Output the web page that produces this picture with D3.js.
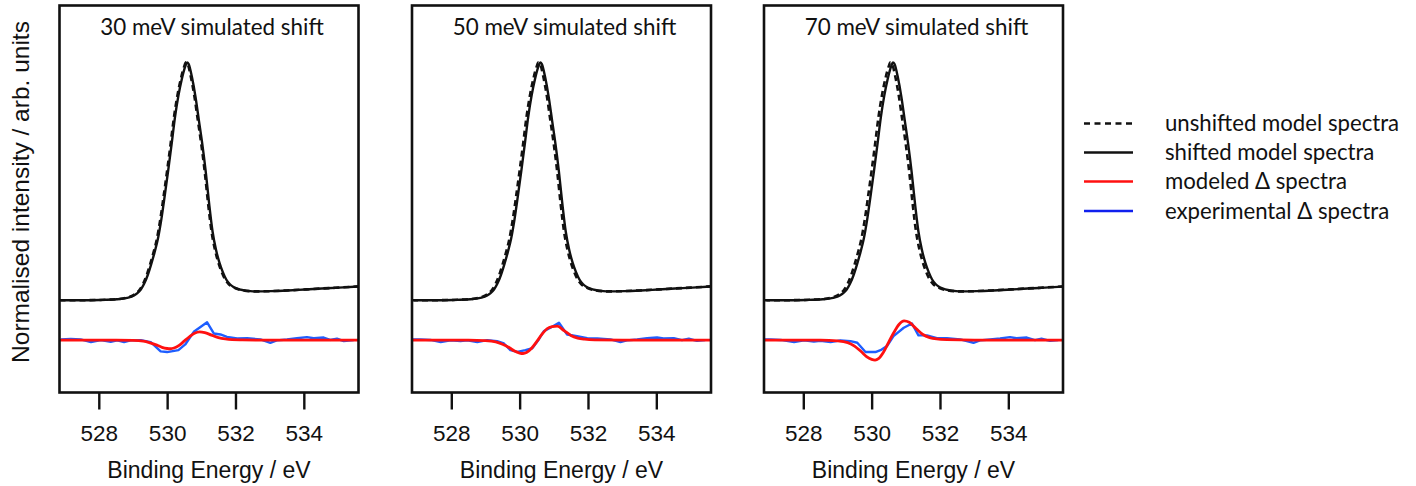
<!DOCTYPE html>
<html>
<head>
<meta charset="utf-8">
<script src="https://cdn.jsdelivr.net/npm/d3@7"></script>
<style>
  html, body { margin: 0; padding: 0; background: #fff; }
  svg { display: block; }
</style>
</head>
<body>
<svg id="chart" width="1416" height="486"></svg>
<script>
// ---- model O 1s spectrum (unshifted), normalised to peak = 1 ----
const modelEnergy = [526.85, 527.5, 528.0, 528.5, 528.8, 529.0, 529.1, 529.2, 529.3, 529.4,
  529.5, 529.6, 529.7, 529.8, 529.9, 530.0, 530.1, 530.2, 530.3, 530.4,
  530.5, 530.55, 530.6, 530.7, 530.8, 530.9, 531.0, 531.1, 531.2, 531.3,
  531.4, 531.5, 531.6, 531.7, 531.8, 531.9, 532.0, 532.2, 532.4, 532.6,
  533.0, 533.5, 534.0, 534.5, 535.0, 535.6];
const modelIntensity = [0.000, 0.000, 0.001, 0.004, 0.010, 0.020, 0.030, 0.045, 0.070, 0.105,
  0.150, 0.200, 0.258, 0.340, 0.440, 0.545, 0.655, 0.770, 0.860, 0.930,
  0.983, 1.000, 0.993, 0.935, 0.855, 0.755, 0.655, 0.540, 0.405, 0.288,
  0.212, 0.158, 0.118, 0.087, 0.068, 0.057, 0.050, 0.042, 0.038, 0.037,
  0.038, 0.041, 0.045, 0.049, 0.053, 0.058];

// ---- simulated shifts (eV) and panel titles ----
const shifts = [0.030, 0.050, 0.070];
const panelTitles = ["30 meV simulated shift", "50 meV simulated shift", "70 meV simulated shift"];

// ---- modeled Δ spectra ----
const modeledEnergy = [526.85, 528.5, 529.0, 529.3, 529.5, 529.7, 529.85, 530.0, 530.1, 530.2,
  530.35, 530.5, 530.65, 530.8, 530.95, 531.1, 531.3, 531.5, 531.7, 531.9,
  532.2, 533.0, 535.6];
const modeled30 = [0, 0, -0.001, -0.004, -0.011, -0.021, -0.030, -0.035, -0.036, -0.033,
  -0.022, -0.004, 0.014, 0.029, 0.035, 0.032, 0.021, 0.011, 0.005, 0.002,
  0.001, 0, 0];
const modeled50 = [0, 0, -0.002, -0.007, -0.017, -0.032, -0.046, -0.054, -0.056, -0.052,
  -0.034, -0.006, 0.024, 0.048, 0.057, 0.059, 0.040, 0.020, 0.009, 0.004,
  0.001, 0, 0];
const modeled70 = [0, 0, -0.003, -0.010, -0.025, -0.049, -0.069, -0.081, -0.084, -0.078,
  -0.050, -0.008, 0.032, 0.066, 0.081, 0.075, 0.049, 0.024, 0.011, 0.005,
  0.002, 0, 0];

// ---- experimental Δ spectra ----
const expEnergy30 = [526.89, 527.18, 527.47, 527.77, 528.06, 528.35, 528.54, 528.74, 528.93, 529.23,
  529.52, 529.81, 530.00, 530.33, 530.53, 530.78, 531.17, 531.37, 531.56, 531.75,
  532.05, 532.34, 532.73, 533.02, 533.21, 533.51, 533.80, 534.09, 534.29, 534.58,
  534.77, 534.97, 535.17, 535.46];
const exp30 = [0.003, 0.005, 0.003, -0.008, 0.000, -0.007, -0.001, -0.008, -0.001, 0.000,
  -0.008, -0.047, -0.050, -0.042, -0.018, 0.035, 0.075, 0.028, 0.024, 0.014,
  0.007, 0.008, 0.003, -0.011, -0.001, 0.003, 0.008, 0.013, 0.008, 0.011,
  0.001, 0.006, -0.004, 0.000];
const expEnergy50 = [526.81, 527.10, 527.39, 527.69, 527.98, 528.27, 528.47, 528.76, 529.05, 529.34,
  529.54, 529.73, 529.93, 530.17, 530.37, 530.56, 530.71, 530.90, 531.15, 531.39,
  531.68, 531.98, 532.27, 532.66, 532.95, 533.14, 533.44, 533.73, 534.02, 534.21,
  534.51, 534.75, 534.95, 535.19, 535.43];
const exp50 = [0.003, 0.003, 0.001, -0.008, -0.001, -0.004, -0.001, -0.008, 0.000, -0.004,
  -0.014, -0.042, -0.049, -0.042, -0.034, 0.003, 0.038, 0.052, 0.073, 0.024,
  0.017, 0.008, 0.007, 0.003, -0.008, -0.001, 0.003, 0.008, 0.011, 0.007,
  0.008, 0.000, 0.006, -0.003, 0.000];
const expEnergy70 = [526.75, 527.05, 527.34, 527.73, 528.02, 528.31, 528.50, 528.80, 529.09, 529.38,
  529.58, 529.82, 530.11, 530.26, 530.45, 530.64, 530.94, 531.18, 531.37, 531.62,
  531.91, 532.20, 532.59, 532.98, 533.17, 533.47, 533.76, 534.05, 534.24, 534.54,
  534.78, 534.97, 535.22, 535.46];
const exp70 = [0.003, 0.003, 0.001, -0.008, -0.001, -0.006, -0.003, -0.008, -0.001, -0.004,
  -0.011, -0.050, -0.050, -0.042, -0.025, 0.017, 0.052, 0.070, 0.020, 0.020,
  0.008, 0.008, 0.003, -0.011, -0.001, 0.003, 0.007, 0.013, 0.008, 0.011,
  0.000, 0.006, -0.003, 0.000];

// ---- axis ticks and legend ----
const xTicks = [528, 530, 532, 534];
const legendLabels = ["unshifted model spectra", "shifted model spectra", "modeled \u0394 spectra", "experimental \u0394 spectra"];

const modeledSeries = [modeled30, modeled50, modeled70];
const expEnergySeries = [expEnergy30, expEnergy50, expEnergy70];
const expSeries = [exp30, exp50, exp70];

// ---- layout ----
const panelLeft = [59.5, 412, 764];
const panelWidth = 299;
const panelTop = 5.5;
const panelBottom = 392.5;
const deltaOffset = -0.168;   // vertical offset of the Δ traces below the spectra
const colRed = "#ff1010";
const colBlue = "#1e5eff";
const colLegendBlue = "#1020ee";
const uiFont = "Lato, 'Noto Sans', sans-serif";
const axisFont = "'Liberation Sans', Arial, sans-serif";

const svg = d3.select("#chart");

const y = d3.scaleLinear().domain([-0.388, 1.239]).range([panelBottom, panelTop]);

const model = modelEnergy.map((e, i) => ({ e, v: modelIntensity[i] }));

shifts.forEach((shift, p) => {
  const x = d3.scaleLinear().domain([526.85, 535.6]).range([panelLeft[p], panelLeft[p] + panelWidth]);
  const g = svg.append("g");

  const clipId = "clip" + p;
  g.append("clipPath").attr("id", clipId)
    .append("rect")
    .attr("x", panelLeft[p]).attr("y", panelTop)
    .attr("width", panelWidth).attr("height", panelBottom - panelTop);

  const plot = g.append("g").attr("clip-path", `url(#${clipId})`);

  const lineModel = d3.line().curve(d3.curveMonotoneX);

  // unshifted model (dashed)
  plot.append("path")
    .attr("d", lineModel(model.map(d => [x(d.e), y(d.v)])))
    .attr("fill", "none").attr("stroke", "#111").attr("stroke-width", 2.6)
    .attr("stroke-dasharray", "6,4");

  // shifted model (solid)
  plot.append("path")
    .attr("d", lineModel(model.map(d => [x(d.e + shift), y(d.v)])))
    .attr("fill", "none").attr("stroke", "#111").attr("stroke-width", 2.4);

  // experimental Δ spectrum
  const eE = expEnergySeries[p], eV = expSeries[p];
  plot.append("path")
    .attr("d", d3.line()(eE.map((e, i) => [x(e), y(eV[i] + deltaOffset)])))
    .attr("fill", "none").attr("stroke", colBlue).attr("stroke-width", 2.4)
    .attr("stroke-linejoin", "round");

  // modeled Δ spectrum
  const mV = modeledSeries[p];
  plot.append("path")
    .attr("d", d3.line().curve(d3.curveMonotoneX)(modeledEnergy.map((e, i) => [x(e), y(mV[i] + deltaOffset)])))
    .attr("fill", "none").attr("stroke", colRed).attr("stroke-width", 2.8);

  // frame
  g.append("rect")
    .attr("x", panelLeft[p]).attr("y", panelTop)
    .attr("width", panelWidth).attr("height", panelBottom - panelTop)
    .attr("fill", "none").attr("stroke", "#111").attr("stroke-width", 2.6);

  // x axis (ticks outside, below the frame)
  const axis = d3.axisBottom(x).tickValues(xTicks).tickSize(17).tickPadding(16).tickFormat(d3.format("d"));
  const ax = g.append("g").attr("transform", `translate(0,${panelBottom})`).call(axis);
  ax.select(".domain").remove();
  ax.selectAll(".tick line").attr("stroke", "#111").attr("stroke-width", 2.4);
  ax.selectAll(".tick text")
    .attr("fill", "#111")
    .style("font-family", axisFont).style("font-size", "22.5px");

  g.append("text")
    .attr("x", panelLeft[p] + panelWidth / 2).attr("y", 478)
    .attr("text-anchor", "middle")
    .style("font-family", axisFont).style("font-size", "23px").attr("fill", "#111")
    .text("Binding Energy / eV");

  // panel title
  g.append("text")
    .attr("x", panelLeft[p] + panelWidth / 2 + 3).attr("y", 35)
    .attr("text-anchor", "middle")
    .style("font-family", uiFont).style("font-size", "22.4px").attr("fill", "#111")
    .text(panelTitles[p]);
});

// y axis label
svg.append("text")
  .attr("transform", "translate(29,192) rotate(-90)")
  .attr("text-anchor", "middle")
  .style("font-family", axisFont).style("font-size", "24.5px").attr("fill", "#111")
  .text("Normalised intensity / arb. units");

// legend
const legendRows = [123.5, 152.5, 181.5, 211];
const legendStyles = [
  { stroke: "#111", dash: "6,4.5" },
  { stroke: "#111", dash: null },
  { stroke: colRed, dash: null },
  { stroke: colLegendBlue, dash: null }
];
const legend = svg.append("g");
legendLabels.forEach((label, i) => {
  const ln = legend.append("line")
    .attr("x1", 1084).attr("x2", 1133)
    .attr("y1", legendRows[i]).attr("y2", legendRows[i])
    .attr("stroke", legendStyles[i].stroke).attr("stroke-width", 2.6);
  if (legendStyles[i].dash) ln.attr("stroke-dasharray", legendStyles[i].dash);
  legend.append("text")
    .attr("x", 1165).attr("y", legendRows[i] + 7.5)
    .style("font-family", uiFont).style("font-size", "22.2px").attr("fill", "#111")
    .text(label);
});
</script>
</body>
</html>
